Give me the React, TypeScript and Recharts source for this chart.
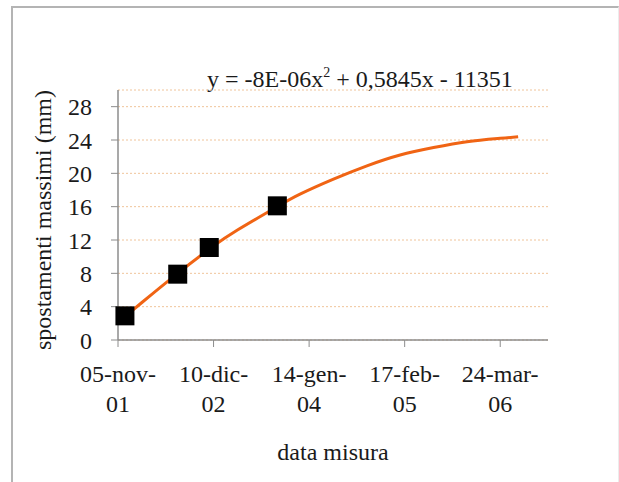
import React from "react";
import {
  ComposedChart,
  Scatter,
  Line,
  XAxis,
  YAxis,
  CartesianGrid,
} from "recharts";

// measurement dates are Excel serial days (05-nov-01 = 37200)
const MEASURE_DATES = [37229, 37450, 37582, 37867];
const MEASURE_VALUES = [2.9, 7.9, 11.1, 16.1];

// polynomial trendline
const TREND_DATES = [
  37229, 37300, 37450, 37596, 37700, 37860, 37962, 38102, 38242, 38381, 38521,
  38661, 38800, 38875,
];
const TREND_VALUES = [
  2.8, 4.5, 8.0, 11.2, 13.2, 15.9, 17.5, 19.3, 20.9, 22.2, 23.1, 23.8, 24.2,
  24.4,
];

const X_TICKS = [37200, 37600, 38000, 38400, 38800];
const X_TICK_TOP = ["05-nov-", "10-dic-", "14-gen-", "17-feb-", "24-mar-"];
const X_TICK_BOTTOM = ["01", "02", "04", "05", "06"];
const Y_TICKS = [0, 4, 8, 12, 16, 20, 24, 28];

const FONT = "'Liberation Serif', serif";
const FS = 24;
const TEXT = "#1a1a1a";
const AXIS = "#8c8c8c";

const measures = MEASURE_DATES.map((x, i) => ({ x, y: MEASURE_VALUES[i] }));
const trend = TREND_DATES.map((x, i) => ({ x, y: TREND_VALUES[i] }));

function DateTick(props: any) {
  const { x, y, payload } = props;
  const i = X_TICKS.indexOf(payload.value);
  return (
    <text
      x={x}
      y={y}
      textAnchor="middle"
      style={{ fontFamily: FONT, fontSize: FS }}
      fill={TEXT}
    >
      <tspan x={x} dy={33}>
        {X_TICK_TOP[i]}
      </tspan>
      <tspan x={x} dy={30}>
        {X_TICK_BOTTOM[i]}
      </tspan>
    </text>
  );
}

function SquareMarker(props: any) {
  const { cx, cy } = props;
  return <rect x={cx - 9.5} y={cy - 9.5} width={19} height={19} fill="#000" />;
}

const label = {
  position: "absolute" as const,
  fontFamily: FONT,
  fontSize: FS,
  lineHeight: 1,
  whiteSpace: "nowrap" as const,
  color: TEXT,
};

export default function App() {
  return (
    <div
      style={{
        position: "absolute",
        left: 0,
        top: 0,
        width: 619,
        height: 482,
        background: "#fff",
      }}
    >
      <div
        style={{
          position: "absolute",
          left: 11,
          top: 6,
          width: 605,
          height: 480,
          borderLeft: "2px solid #b4b4b4",
          borderTop: "2px solid #b4b4b4",
          borderRight: "1px solid #ececec",
        }}
      />
      <div style={{ ...label, left: 207, top: 66 }}>
        y = -8E-06x<sup style={{ fontSize: 14, verticalAlign: 10 }}>2</sup> +
        0,5845x - 11351
      </div>
      <div
        style={{
          ...label,
          left: 43,
          top: 220,
          transform: "translate(-50%, -50%) rotate(-90deg)",
        }}
      >
        spostamenti massimi (mm)
      </div>
      <div
        style={{
          ...label,
          left: 333,
          top: 452,
          transform: "translate(-50%, -50%)",
        }}
      >
        data misura
      </div>
      <ComposedChart
        width={619}
        height={482}
        margin={{ top: 90, right: 71, bottom: 82, left: 18 }}
        style={{ position: "absolute", left: 0, top: 0 }}
      >
        <CartesianGrid
          vertical={false}
          stroke="#f0c49a"
          strokeDasharray="2 2"
        />
        <XAxis
          dataKey="x"
          type="number"
          domain={[37200, 39000]}
          ticks={X_TICKS}
          interval={0}
          height={60}
          tick={<DateTick />}
          tickSize={7}
          axisLine={{ stroke: AXIS, strokeWidth: 1.5 }}
          tickLine={{ stroke: AXIS }}
        />
        <YAxis
          type="number"
          domain={[0, 30]}
          ticks={Y_TICKS}
          interval={0}
          width={100}
          tickSize={7}
          tickMargin={19}
          tick={{ style: { fontFamily: FONT, fontSize: FS }, fill: TEXT }}
          axisLine={{ stroke: AXIS, strokeWidth: 1.5 }}
          tickLine={{ stroke: AXIS }}
        />
        <Scatter
          data={measures}
          dataKey="y"
          shape={<SquareMarker />}
          isAnimationActive={false}
        />
        <Line
          data={trend}
          dataKey="y"
          type="natural"
          stroke="#f06414"
          strokeWidth={3}
          dot={false}
          isAnimationActive={false}
        />
      </ComposedChart>
    </div>
  );
}
